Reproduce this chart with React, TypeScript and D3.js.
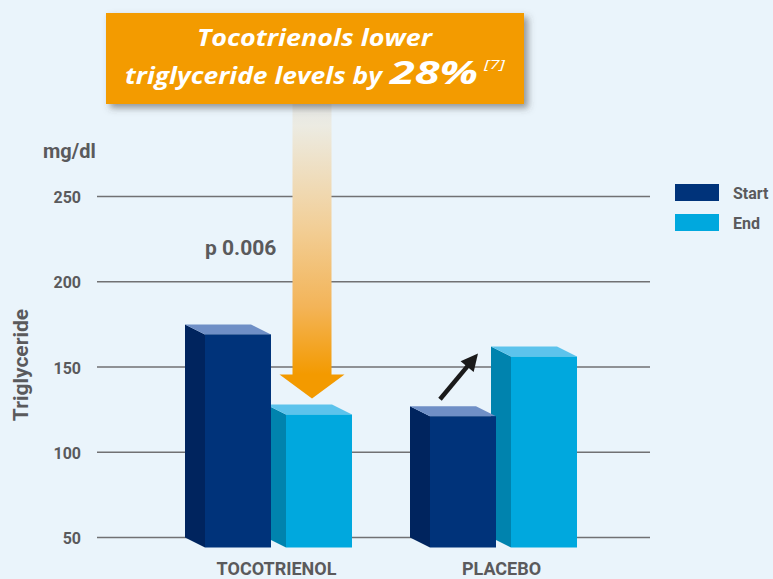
import React from "react";
import * as d3 from "d3";

const categories = ["TOCOTRIENOL", "PLACEBO"];
const series = ["Start", "End"];
const startValues = [175, 127];
const endValues = [128, 162];
const yTicks = [50, 100, 150, 200, 250];

const W = 773;
const H = 579;
const BG = "#EAF4FB";
const GRAY = "#5a5a5c";
const colors: Record<string, { front: string; side: string; top: string }> = {
  Start: { front: "#00337A", side: "#00245E", top: "#6F8FC6" },
  End: { front: "#00A8DE", side: "#0083AE", top: "#5CC3EC" },
};

const yScale = d3.scaleLinear().domain([50, 250]).range([537.5, 196.5]);
const xCenter = d3.scalePoint<string>().domain(categories).range([278.5, 503.5]);
const groupW = 147;
const xSub = d3.scaleBand<string>().domain(series).range([0, groupW]).paddingInner(15 / 81);
const DX = 20;
const DY = 10;

function frontX(cat: string, s: string) {
  return (xCenter(cat) as number) - groupW / 2 + (xSub(s) as number);
}

function Bar3D({ cat, s, v }: { cat: string; s: string; v: number }) {
  const fx = frontX(cat, s);
  const bw = xSub.bandwidth();
  const bx = fx - DX;
  const yTop = yScale(v);
  const yBase = yScale(50);
  const c = colors[s];
  const side = [[bx, yTop], [fx, yTop + DY], [fx, yBase + DY], [bx, yBase]];
  const top = [[bx, yTop], [bx + bw, yTop], [fx + bw, yTop + DY], [fx, yTop + DY]];
  const pts = (p: number[][]) => p.map((q) => q.join(",")).join(" ");
  return (
    <g>
      <polygon points={pts(side)} fill={c.side} />
      <polygon points={pts(top)} fill={c.top} />
      <rect x={fx} y={yTop + DY} width={bw} height={yBase - yTop} fill={c.front} />
    </g>
  );
}

export default function App() {
  const axisFont = "Roboto, 'DejaVu Sans', sans-serif";
  const boxFont = "'Open Sans', 'DejaVu Sans', sans-serif";

  // orange arrow anchored on tocotrienol end bar
  const ax = frontX("TOCOTRIENOL", "End") + 26;
  const tipY = yScale(endValues[0]) - 6;
  const headY = tipY - 24;
  const shaftTop = 104;

  // black arrow between placebo bars
  const t0x = frontX("PLACEBO", "Start") + 10;
  const t0y = yScale(startValues[1]) - 7;
  const t1x = frontX("PLACEBO", "End") - 33;
  const t1y = yScale(endValues[1]) + 7;
  const len = Math.hypot(t1x - t0x, t1y - t0y);
  const ux = (t1x - t0x) / len;
  const uy = (t1y - t0y) / len;
  const hl = 17;
  const hw = 8.5;
  const bxp = t1x - ux * hl;
  const byp = t1y - uy * hl;
  const head = [
    [t1x, t1y],
    [bxp - uy * hw, byp + ux * hw],
    [bxp + uy * hw, byp - ux * hw],
  ];

  const bars: { cat: string; s: string; v: number }[] = [];
  categories.forEach((cat, i) => {
    bars.push({ cat, s: "End", v: endValues[i] });
    bars.push({ cat, s: "Start", v: startValues[i] });
  });

  return (
    <svg width={W} height={H} style={{ position: "absolute", left: 0, top: 0 }}>
      <defs>
        <linearGradient id="shaft" x1="0" y1={shaftTop} x2="0" y2={headY} gradientUnits="userSpaceOnUse">
          <stop offset="0" stopColor="#e4e6e4" />
          <stop offset="0.08" stopColor="#ecebe2" />
          <stop offset="0.45" stopColor="#f2cf98" />
          <stop offset="0.75" stopColor="#f3b458" />
          <stop offset="1" stopColor="#F39A00" />
        </linearGradient>
        <filter id="shadow" x="-10%" y="-20%" width="130%" height="160%">
          <feDropShadow dx="4" dy="4" stdDeviation="3.5" floodColor="#4a4a4a" floodOpacity="0.55" />
        </filter>
      </defs>
      <rect width={W} height={H} fill={BG} />

      {yTicks.map((t) => (
        <g key={t}>
          <line x1={97} x2={650} y1={yScale(t)} y2={yScale(t)} stroke="#717173" strokeWidth={1.5} />
          <text x={81} y={yScale(t) + 1} textAnchor="end" dominantBaseline="central" fontFamily={axisFont} fontWeight={700} fontSize={16} fill={GRAY}>
            {t}
          </text>
        </g>
      ))}

      <text x={43} y={158} fontFamily={axisFont} fontWeight={700} fontSize={20} fill={GRAY}>mg/dl</text>
      <text transform={`translate(28,365) rotate(-90)`} textAnchor="middle" fontFamily={axisFont} fontWeight={700} fontSize={21} fill={GRAY}>
        Triglyceride
      </text>
      <text x={205} y={255} fontFamily={axisFont} fontWeight={700} fontSize={21} fill={GRAY}>p 0.006</text>

      {bars.map((b) => (
        <Bar3D key={b.cat + b.s} cat={b.cat} s={b.s} v={b.v} />
      ))}

      {categories.map((c) => (
        <text key={c} x={(xCenter(c) as number) - 2} y={575} textAnchor="middle" fontFamily={axisFont} fontWeight={700} fontSize={18} fill={GRAY}>
          {c}
        </text>
      ))}

      {/* orange down arrow */}
      <rect x={ax - 19.5} y={shaftTop} width={39} height={headY - shaftTop + 1} fill="url(#shaft)" />
      <polygon points={`${ax - 32.5},${headY} ${ax + 32.5},${headY} ${ax},${tipY}`} fill="#F39A00" />

      {/* black arrow */}
      <line x1={t0x} y1={t0y} x2={bxp + ux * 2} y2={byp + uy * 2} stroke="#1a1a1a" strokeWidth={4.5} />
      <polygon points={head.map((p) => p.join(",")).join(" ")} fill="#1a1a1a" />

      {/* legend */}
      {series.map((s, i) => (
        <g key={s}>
          <rect x={675} y={184 + i * 30} width={44} height={17} fill={colors[s].front} />
          <text x={733} y={193 + i * 30} dominantBaseline="central" fontFamily={axisFont} fontWeight={700} fontSize={16} fill={GRAY}>
            {s}
          </text>
        </g>
      ))}

      {/* headline box */}
      <rect x={106} y={13} width={418} height={91} fill="#F39B00" filter="url(#shadow)" />
      <text x={197} y={46} textLength={235} lengthAdjust="spacingAndGlyphs" fontFamily={boxFont} fontStyle="italic" fontWeight={700} fontSize={23} fill="#fff">
        Tocotrienols lower
      </text>
      <text x={125} y={84} textLength={257} lengthAdjust="spacingAndGlyphs" fontFamily={boxFont} fontStyle="italic" fontWeight={700} fontSize={23} fill="#fff">
        triglyceride levels by
      </text>
      <text x={390} y={84} textLength={88} lengthAdjust="spacingAndGlyphs" fontFamily={boxFont} fontStyle="italic" fontWeight={700} fontSize={32} fill="#fff">
        28%
      </text>
      <text x={484} y={69} textLength={21} lengthAdjust="spacingAndGlyphs" fontFamily={boxFont} fontStyle="italic" fontWeight={400} fontSize={13} fill="#fff">
        [7]
      </text>
    </svg>
  );
}
